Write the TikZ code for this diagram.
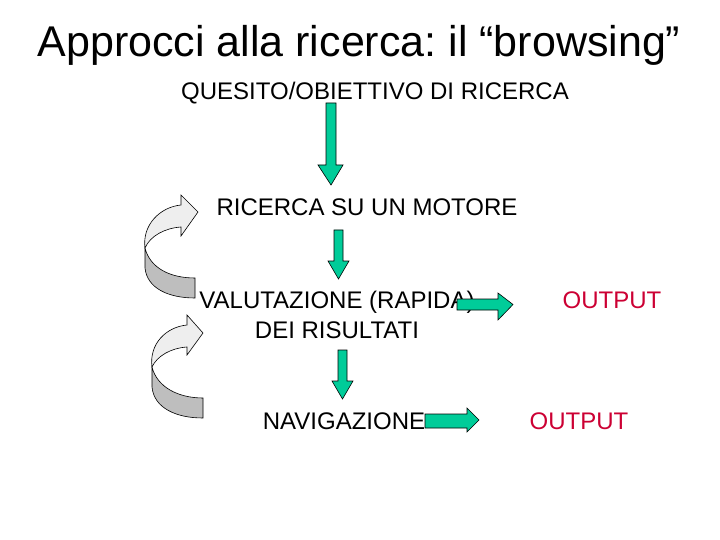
\documentclass[tikz,border=0pt]{standalone}
\usepackage{fontspec}
\setmainfont{Liberation Sans}
\frenchspacing
\definecolor{arrgreen}{RGB}{0,204,153}
\definecolor{ribbonlight}{RGB}{238,238,238}
\definecolor{ribbondark}{RGB}{190,190,190}
\begin{document}
\begin{tikzpicture}[x=1pt,y=-1pt,
  lbl/.style={inner sep=0pt,anchor=base,font=\fontsize{24}{28}\selectfont},
  outlbl/.style={lbl,text={rgb,255:red,204;green,0;blue,51}},
  garrow/.style={fill=arrgreen,draw=black,line width=0.6pt,line join=miter},
  light/.style={fill=ribbonlight,draw=black,line width=0.6pt},
  dark/.style={fill=ribbondark,draw=black,line width=0.6pt}]
\useasboundingbox (0,0) rectangle (720,540);
% title
\node[inner sep=0pt,anchor=base,font=\fontsize{43}{48}\selectfont] (title) at (359,57) {Approcci alla ricerca: il “browsing”};
% texts
\node[lbl] (q) at (375,100) {QUESITO/OBIETTIVO DI RICERCA};
\node[lbl] (m) at (367,215) {RICERCA SU UN MOTORE};
\node[lbl] (v1) at (337,308) {VALUTAZIONE (RAPIDA)};
\node[lbl] (v2) at (337,338) {DEI RISULTATI};
\node[lbl] (n) at (344,429) {NAVIGAZIONE};
\node[outlbl] (o1) at (612,308) {OUTPUT};
\node[outlbl] (o2) at (579,429) {OUTPUT};
% vertical green arrows
\draw[garrow] (326,103) -- (336,103) -- (336,165) -- (343,165) -- (331,185) -- (318,165) -- (326,165) -- cycle;
\draw[garrow] (334,230) -- (343,230) -- (343,261) -- (349,261) -- (338.5,279) -- (328,261) -- (334,261) -- cycle;
\draw[garrow] (338,350) -- (347,350) -- (347,381) -- (353,381) -- (342.5,399) -- (332,381) -- (338,381) -- cycle;
% horizontal green arrows
\draw[garrow] (457,299) -- (498,299) -- (498,293) -- (513,304.5) -- (498,320) -- (498,310) -- (457,310) -- cycle;
\draw[garrow] (425,414) -- (467,414) -- (467,408) -- (479,420) -- (467,432) -- (467,428) -- (425,428) -- cycle;
% curved ribbon arrow 1
\draw[dark] (145,248) .. controls (150,268) and (170,278) .. (195,278) -- (195,298) .. controls (168,298) and (147,288) .. (145,268) -- cycle;
\draw[light] (145,248) .. controls (142,225) and (160,207) .. (181,205) -- (181,195) -- (198,212) -- (181,236) -- (181,227) .. controls (165,228) and (150,236) .. (145,248) -- cycle;
% curved ribbon arrow 2
\draw[dark] (152,367) .. controls (157,387) and (178,398) .. (203,398) -- (203,418) .. controls (176,418) and (154,408) .. (152,387) -- cycle;
\draw[light] (152,367) .. controls (149,344) and (166,327) .. (187,325) -- (187,315) -- (203,333) -- (187,355) -- (187,347) .. controls (171,348) and (157,356) .. (152,367) -- cycle;
\end{tikzpicture}
\end{document}
